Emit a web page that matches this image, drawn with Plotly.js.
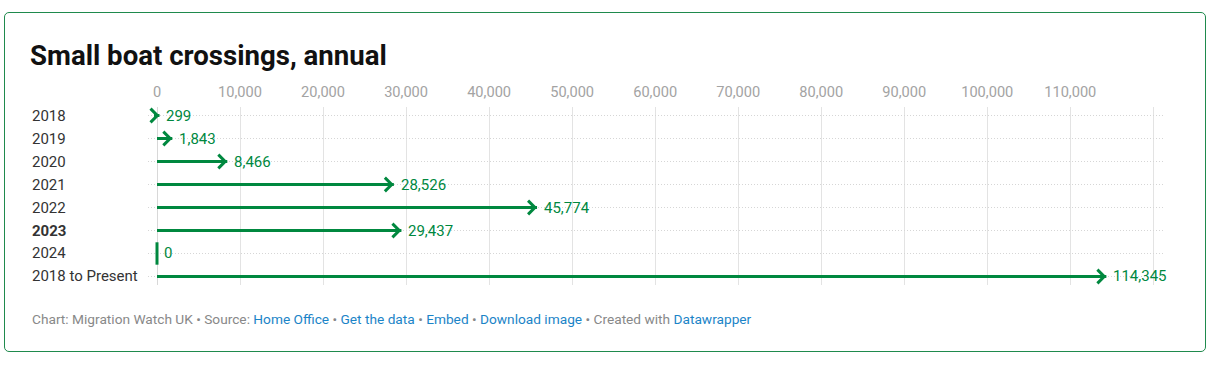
<!DOCTYPE html>
<html>
<head>
<meta charset="utf-8">
<script src="https://cdn.plot.ly/plotly-3.0.1.min.js"></script>
<style>
  html, body { margin: 0; padding: 0; background: #fff; }
  #wrap { position: relative; width: 1212px; height: 372px; overflow: hidden; }
  #frame { position: absolute; left: 4px; top: 12px; width: 1200px; height: 338px;
           border: 1px solid #1f8a4d; border-radius: 5px; pointer-events: none; z-index: 5; }
  #chart { position: absolute; left: 0; top: 0; width: 1212px; height: 372px; }
</style>
</head>
<body>
<div id="wrap">
  <div id="frame"></div>
  <div id="chart"></div>
</div>
<script>
// ---- data ----
const categories = ["2018", "2019", "2020", "2021", "2022", "2023", "2024", "2018 to Present"];
const crossings = [299, 1843, 8466, 28526, 45774, 29437, 0, 114345];
const boldCategories = ["2023"];
const tickValues = [0, 10000, 20000, 30000, 40000, 50000, 60000, 70000, 80000, 90000, 100000, 110000, 120000];
const tickLabels = ["0", "10,000", "20,000", "30,000", "40,000", "50,000", "60,000", "70,000", "80,000", "90,000", "100,000", "110,000", ""];

const GREEN = "#00883f";
const FONT = "Roboto, 'Noto Sans', sans-serif";

function fmt(v) { return v.toLocaleString("en-US"); }

// category axis positions (index of each category)
const idx = categories.map((c, i) => i);

// shafts
const sx = [], sy = [];
categories.forEach((c, i) => {
  if (crossings[i] > 0) { sx.push(0, crossings[i], null); sy.push(c, c, null); }
});

const traces = [
  {
    type: "scatter", mode: "lines", x: sx, y: sy,
    line: { color: GREEN, width: 3 }, hoverinfo: "skip", showlegend: false
  },
  {
    type: "scatter", mode: "markers",
    x: crossings.filter(v => v === 0),
    y: categories.filter((c, i) => crossings[i] === 0),
    marker: { symbol: "line-ns", size: 16, line: { color: GREEN, width: 3 } },
    hoverinfo: "skip", showlegend: false
  }
];

const L = 148, R = 47, W = 1212;
const plotW = W - L - R;
const annotations = [];
categories.forEach((c, i) => {
  const v = crossings[i];
  if (v > 0) {
    annotations.push({
      x: v, y: idx[i], xref: "x", yref: "y", text: "", showarrow: true,
      ax: -7, ay: 0, axref: "pixel", ayref: "pixel",
      arrowhead: 4, arrowsize: 0.88, arrowwidth: 3, arrowcolor: GREEN, standoff: 0
    });
  }
  annotations.push({
    x: v, y: idx[i], xref: "x", yref: "y", text: fmt(v), showarrow: false,
    xanchor: "left", yanchor: "middle", xshift: 5,
    font: { family: FONT, size: 15, color: GREEN }
  });
  annotations.push({
    x: (30 - L) / plotW, xref: "paper", y: idx[i], yref: "y", showarrow: false,
    text: boldCategories.includes(c) ? "<b>" + c + "</b>" : c,
    xanchor: "left", yanchor: "middle",
    font: { family: FONT, size: 15, color: "#333333" }
  });
});

annotations.push({
  xref: "paper", yref: "paper", x: (30 - L) / plotW, y: (285 - 319) / 178,
  xanchor: "left", yanchor: "middle", showarrow: false, align: "left",
  font: { family: FONT, size: 13.7, color: "#888888" },
  text: "Chart: Migration Watch UK • Source: <span style='color:#1b84c7'>Home Office</span> • " +
        "<span style='color:#1b84c7'>Get the data</span> • <span style='color:#1b84c7'>Embed</span> • " +
        "<span style='color:#1b84c7'>Download image</span> • Created with <span style='color:#1b84c7'>Datawrapper</span>"
});

const layout = {
  width: 1212, height: 372,
  margin: { l: L, r: R, t: 107, b: 87, pad: 0 },
  paper_bgcolor: "#ffffff", plot_bgcolor: "#ffffff",
  title: {
    text: "<b>Small boat crossings, annual</b>",
    x: 30 / 1212, xanchor: "left", xref: "container",
    y: 1 - 55 / 372, yanchor: "middle", yref: "container",
    font: { family: FONT, size: 27.6, color: "#111111" }
  },
  xaxis: {
    side: "top", range: [-1084, 121409], fixedrange: true,
    tickmode: "array", tickvals: tickValues, ticktext: tickLabels,
    ticks: "", ticklabelstandoff: 6,
    tickfont: { family: FONT, size: 14.6, color: "#a3a3a3" },
    showgrid: true, gridcolor: "#e3e3e3", gridwidth: 1,
    zeroline: true, zerolinecolor: "#d8d8d8", zerolinewidth: 1,
    showline: false
  },
  yaxis: {
    type: "category", categoryarray: categories, categoryorder: "array",
    range: [7.37, -0.37], fixedrange: true,
    showticklabels: false, ticks: "",
    showgrid: true, gridcolor: "#d6d6d6", gridwidth: 1, griddash: "1px,2px",
    zeroline: false, showline: false
  },
  annotations: annotations,
  showlegend: false
};

Plotly.newPlot("chart", traces, layout, { displayModeBar: false, staticPlot: true });
</script>
</body>
</html>
